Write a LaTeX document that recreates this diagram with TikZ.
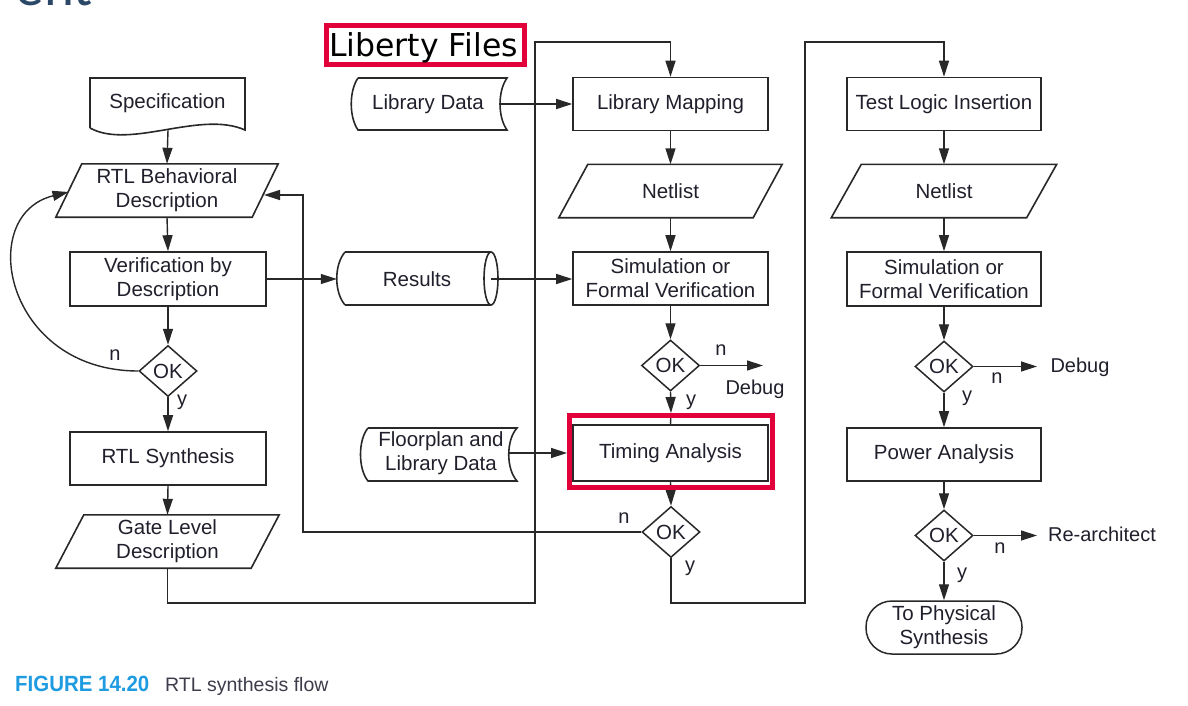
\documentclass[tikz,border=0pt]{standalone}
\usepackage{fontspec}
\usepackage{graphicx}
\setmainfont{Liberation Sans}
\newfontfamily\dejavu{DejaVu Sans}
\newfontfamily\carlito{Carlito}
\usetikzlibrary{shapes.geometric,arrows.meta,calc}

\definecolor{ink}{RGB}{32,32,44}
\definecolor{linec}{RGB}{40,40,40}
\definecolor{hlred}{RGB}{226,0,58}
\definecolor{capblue}{RGB}{30,155,225}
\definecolor{titleblue}{RGB}{44,72,104}
\definecolor{capgray}{RGB}{60,60,75}

\newcommand\slantbox[2]{\draw[shapeline] ($(#1.north west)+(#2,0)$) -- ($(#1.north east)+(#2,0)$) -- ($(#1.south east)-(#2,0)$) -- ($(#1.south west)-(#2,0)$) -- cycle;}

\begin{document}
\begin{tikzpicture}[x=1pt,y=-1pt,
  txt/.style={font=\fontsize{20.5}{24}\selectfont, text=ink, align=center, inner sep=0pt},
  procbox/.style={txt, draw=linec, line width=1.6pt, minimum width=195pt, minimum height=53pt},
  plain/.style={txt, minimum width=196pt, minimum height=53pt},
  decision/.style={txt, diamond, draw=linec, line width=1.5pt, minimum width=58pt, minimum height=51pt},
  flow/.style={draw=linec, line width=1.4pt},
  arr/.style={flow, -{Triangle[length=16pt,width=10pt]}},
  shapeline/.style={draw=linec, line width=1.6pt},
  lbl/.style={font=\fontsize{20}{24}\selectfont, text=ink, inner sep=0pt},
  hlbox/.style={draw=hlred, line width=5pt, inner sep=0pt}
]
\useasboundingbox (0,0) rectangle (1188,706);
\fill[white] (0,0) rectangle (1188,706);
\begin{scope}
  \clip (0,0) rectangle (1188,706);
  \node[anchor=base east, inner sep=0pt, text=titleblue, font=\carlito\fontsize{57}{60}\selectfont] (title) at (93,6) {ent};
\end{scope}

% ---------- left column ----------
\node[txt] (spec) at (167.5,103) {Specification};
\draw[shapeline] (90,128) -- (90,78) -- (245,78) -- (245,130) .. controls (200,110) and (130,150) .. (90,128);
\coordinate (specB) at (168,130);

\node[plain] (rtlb) at (167,190.5) {RTL Behavioral\\Description};
\slantbox{rtlb}{13}
\coordinate (rtlbW) at (68.5,192);
\coordinate (rtlbE) at (264,195);

\node[procbox, minimum width=196pt, minimum height=54pt] (verif) at (168,279) {Verification by\\Description};
\node[decision] (ok1) at (168,371) {OK};
\node[procbox, minimum width=196pt] (rtls) at (168,458.5) {RTL Synthesis};
\node[plain, minimum width=195pt] (gate) at (167.5,541.5) {Gate Level\\Description};
\slantbox{gate}{14}

% ---------- middle column ----------
\node[txt, minimum width=142pt] (libdata) at (428,104) {Library Data};
\draw[shapeline] (358,78) -- (507,78) .. controls (497.7,91) and (497.7,117) .. (507,130) -- (358,130) .. controls (349,117) and (349,91) .. (358,78);

\node[procbox] (libmap) at (670.5,104) {Library Mapping};
\node[plain, minimum width=194pt] (net1) at (670.5,191) {Netlist};
\slantbox{net1}{14.5}

\node[txt, minimum width=148pt] (results) at (417,279) {Results};
\draw[shapeline] (345,252) -- (491,252);
\draw[shapeline] (345,305) -- (491,305);
\draw[shapeline] (345,252) .. controls (334,265) and (334,292) .. (345,305);
\draw[shapeline] (491,278.5) ellipse [x radius=7, y radius=26.5];

\node[procbox] (sim1) at (670.5,278.5) {Simulation or\\Formal Verification};
\node[decision] (ok2) at (670.5,365.5) {OK};
\node[procbox, minimum height=56pt] (ta) at (670.5,453) {Timing Analysis};
\node[hlbox, minimum width=203pt, minimum height=72pt] (tahl) at (671,451.5) {};

\node[txt, minimum width=136pt] (floor) at (441,453) {Floorplan and\\Library Data};
\draw[shapeline] (368,428) -- (517,428) .. controls (506,440) and (506,469) .. (517,481) -- (368,481) .. controls (358,469) and (358,440) .. (368,428);

\node[decision] (ok3) at (671,532) {OK};

\node[hlbox, minimum width=198pt, minimum height=39pt] (libhl) at (425.5,45) {};
\node[anchor=base, inner sep=0pt, text=black, font=\dejavu\fontsize{31.5}{34}\selectfont] (libtext) at (423.5,57) {Liberty Files};

% ---------- right column ----------
\node[procbox, minimum width=194pt] (tli) at (944,104) {Test Logic Insertion};
\node[plain, minimum width=195pt] (net2) at (944,191) {Netlist};
\slantbox{net2}{15}
\node[procbox, minimum width=194pt, minimum height=54pt] (sim2) at (944,279) {Simulation or\\Formal Verification};
\node[decision] (ok4) at (944,366.5) {OK};
\node[procbox, minimum width=194pt] (pa) at (944,454.5) {Power Analysis};
\node[decision] (ok5) at (944,535.5) {OK};
\node[txt, draw=linec, line width=1.5pt, rounded corners=26pt, minimum width=156pt, minimum height=53pt] (tps) at (944,627.5) {To Physical\\Synthesis};

% ---------- labels ----------
\node[lbl] (n1) at (115,355) {n};
\node[lbl] (y1) at (182,402) {y};
\node[lbl] (n2) at (721,350) {n};
\node[lbl] (debug1) at (755,389) {Debug};
\node[lbl] (y2) at (691,402) {y};
\node[lbl] (n3) at (624,518) {n};
\node[lbl] (y3) at (690,568) {y};
\node[lbl] (n4) at (997,378) {n};
\node[lbl] (debug2) at (1080,367) {Debug};
\node[lbl] (y4) at (967,398) {y};
\node[lbl] (n5) at (1000,548) {n};
\node[lbl] (rearch) at (1102,534) {Re-architect};
\node[lbl] (y5) at (962,575) {y};

\coordinate (d1end) at (763,365.5);
\coordinate (d2end) at (1037,366.5);
\coordinate (r2end) at (1037,535.5);
\coordinate (c1) at (535,603);
\coordinate (c2) at (535,42);
\coordinate (c3) at (303,195);
\coordinate (c4) at (805,603);
\coordinate (c5) at (805,42);

% ---------- connectors ----------
\draw[arr] (specB) -- (rtlb.north);
\draw[arr] (rtlb.south) -- (verif.north);
\draw[arr] (verif.south) -- (ok1.north);
\draw[arr] (ok1.south) -- (rtls.north);
\draw[arr] (rtls.south) -- (gate.north);
\draw[arr] (ok1.west) .. controls (5,371) and (-25,215) .. (rtlbW);
\draw[arr] (gate.south) |- (c1) -- (c2) -| (libmap.north);

\draw[arr] (libdata.east) -- (libmap.west);
\draw[arr] (libmap.south) -- (net1.north);
\draw[arr] (net1.south) -- (sim1.north);
\draw[arr] (verif.east) -- ([xshift=-6pt]results.west);
\draw[arr] (results.east) -- (results.east -| sim1.west);
\draw[arr] (sim1.south) -- (ok2.north);
\draw[arr] (ok2.east) -- (d1end);
\draw[arr] (ok2.south) -- (tahl.north);
\draw[flow] (tahl.north) -- (ta.north);
\draw[arr] (floor.east) -- (floor.east -| tahl.west);
\draw[flow] (floor.east -| tahl.west) -- (ta.west);
\draw[arr] (ta.south) -- (ok3.north);
\draw[arr] (ok3.west) -| (c3) -- (rtlbE);
\draw[arr] (ok3.south) |- (c4) -- (c5) -| (tli.north);

\draw[arr] (tli.south) -- (net2.north);
\draw[arr] (net2.south) -- (sim2.north);
\draw[arr] (sim2.south) -- (ok4.north);
\draw[arr] (ok4.east) -- (d2end);
\draw[arr] (ok4.south) -- (pa.north);
\draw[arr] (pa.south) -- (ok5.north);
\draw[arr] (ok5.east) -- (r2end);
\draw[arr] (ok5.south) -- (tps.north);

% red frame on top
\node[hlbox, minimum width=203pt, minimum height=72pt] at (671,451.5) {};

% ---------- caption ----------
\node[anchor=base west, inner sep=0pt, text=capblue, font=\fontsize{22}{24}\selectfont\bfseries] (figno) at (15,691) {\scalebox{0.93}[1]{FIGURE 14.20}};
\node[anchor=base west, inner sep=0pt, text=capgray, font=\fontsize{19.5}{22}\selectfont] (capt) at (165,691) {RTL synthesis flow};
\end{tikzpicture}
\end{document}
